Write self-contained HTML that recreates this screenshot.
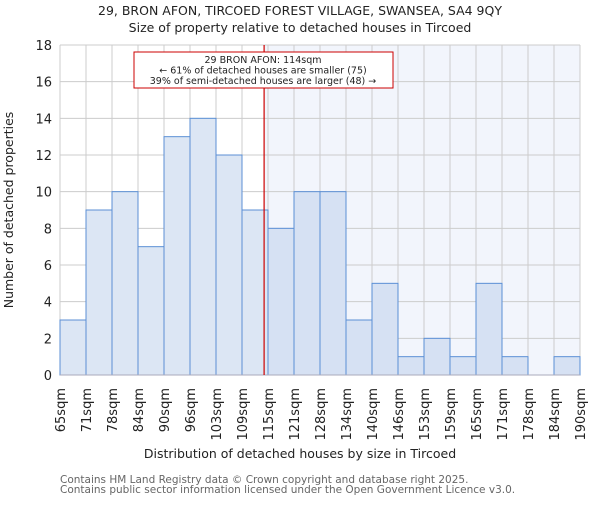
<!DOCTYPE html>
<html><head><meta charset="utf-8"><style>
body{margin:0;background:#fff}
svg text{font-family:"DejaVu Sans","Liberation Sans",sans-serif}
</style></head><body>
<svg id="c" width="600" height="500" xmlns="http://www.w3.org/2000/svg">
<text x="300" y="15" text-anchor="middle" font-size="12.5" fill="#222">29, BRON AFON, TIRCOED FOREST VILLAGE, SWANSEA, SA4 9QY</text>
<text x="300" y="32" text-anchor="middle" font-size="12.5" fill="#222">Size of property relative to detached houses in Tircoed</text>
<g id="plot"></g>
<text x="300" y="458" text-anchor="middle" font-size="12.5" fill="#222">Distribution of detached houses by size in Tircoed</text>
<text transform="translate(13,210) rotate(-90)" text-anchor="middle" font-size="12.5" fill="#222">Number of detached properties</text>
<text x="60" y="483" font-size="10.5" fill="#666">Contains HM Land Registry data © Crown copyright and database right 2025.</text>
<text x="60" y="493" font-size="10.5" fill="#666">Contains public sector information licensed under the Open Government Licence v3.0.</text>
</svg>
<script>
const labels=["65sqm","71sqm","78sqm","84sqm","90sqm","96sqm","103sqm","109sqm","115sqm","121sqm","128sqm","134sqm","140sqm","146sqm","153sqm","159sqm","165sqm","171sqm","178sqm","184sqm","190sqm"];
const counts=[3,9,10,7,13,14,12,9,8,10,10,3,5,1,2,1,5,1,0,1];
const yTicks=[0,2,4,6,8,10,12,14,16,18];
const markerBin=7.85;
const NS="http://www.w3.org/2000/svg";
const g=document.getElementById('plot');
const X0=60,X1=580,Y0=375,Y1=45,yMax=18;
const bw=(X1-X0)/counts.length;
const x=i=>X0+i*bw;
const y=v=>Y0-(v/yMax)*(Y0-Y1);
function el(t,a){const e=document.createElementNS(NS,t);for(const k in a)e.setAttribute(k,a[k]);g.appendChild(e);return e;}
const mx=x(markerBin);
let r=el('rect',{x:mx,y:Y1,width:X1-mx,height:Y0-Y1,fill:'#f2f5fc'});


yTicks.forEach(t=>{
 let l=el('line',{x1:X0,x2:X1,y1:y(t),y2:y(t),stroke:'#ccc','stroke-width':1});
 
 
 let tx=el('text',{x:X0-8,y:y(t)+5,'text-anchor':'end','font-size':13,fill:'#222'});
 tx.textContent=t;
 
 
});
labels.forEach((s,i)=>{
 let l=el('line',{x1:x(i),x2:x(i),y1:Y1,y2:Y0,stroke:'#ccc','stroke-width':1});
 
 
 let tx=el('text',{transform:`translate(${x(i)+5},388) rotate(-90)`,'text-anchor':'end','font-size':13,fill:'#222'});
 tx.textContent=s;
 
 
});
counts.forEach((v,i)=>{
 if(v<=0)return;
 let b=el('rect',{x:x(i),y:y(v),width:bw,height:Y0-y(v),fill:i>=8?'#d6e1f3':'#dce6f4',stroke:'#5b8fd5','stroke-width':1});
 
 
});
let ax=el('line',{x1:X0,x2:X1,y1:Y0,y2:Y0,stroke:'#aab','stroke-width':1});


let ml=el('line',{x1:mx,x2:mx,y1:Y1,y2:Y0,stroke:'#cc0000','stroke-width':1.2});


let box=el('rect',{x:134,y:52,width:259,height:36,fill:'#fff',stroke:'#cc0000','stroke-width':1});


["29 BRON AFON: 114sqm","← 61% of detached houses are smaller (75)","39% of semi-detached houses are larger (48) →"].forEach((s,k)=>{
 let t=el('text',{x:263,y:63+k*10.5,'text-anchor':'middle','font-size':9.5,fill:'#222'});
 t.textContent=s;
 
 
});
</script>
</body></html>
